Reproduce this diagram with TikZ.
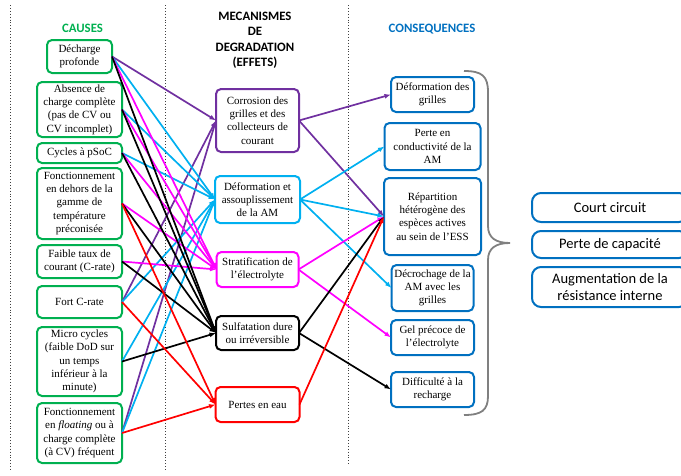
\documentclass[tikz,border=0pt]{standalone}
\usepackage{fontspec}
\setmainfont{Liberation Serif}
\newfontfamily\calib{Carlito}
\usetikzlibrary{positioning,arrows.meta}
\definecolor{cgreen}{RGB}{0,176,80}
\definecolor{cpurple}{RGB}{112,48,160}
\definecolor{cblue}{RGB}{0,176,240}
\definecolor{cmag}{RGB}{255,0,255}
\definecolor{cred}{RGB}{255,0,0}
\definecolor{cdblue}{RGB}{0,112,192}

\begin{document}
\begin{tikzpicture}[x=1pt, y=-1pt,
  Bx/.style={draw, line width=2pt, rounded corners=5pt, align=center,
    inner sep=1pt, outer sep=0pt, font=\fontsize{11}{13.3}\selectfont},
  Ca/.style={Bx, draw=cgreen, minimum width=85pt},
  Me/.style={Bx, draw=#1},
  Co/.style={Bx, draw=cdblue},
  Rs/.style={Bx, draw=cdblue, rounded corners=9pt, minimum width=156pt,
    font=\calib\fontsize{14.5}{17}\selectfont},
  Hd/.style={font=\calib\bfseries\fontsize{12.8}{15.5}\selectfont, align=center},
  Ar/.style={line width=1.7pt, -{Latex[length=6.5pt,width=5pt]}}]
\useasboundingbox (0,0) rectangle (681,475);

\draw[dotted, line width=0.9pt, black!75] (10,5) -- (10,470);
\draw[dotted, line width=0.9pt, black!75] (165,5) -- (165,470);
\draw[dotted, line width=0.9pt, black!75] (348,5) -- (348,465);

\node[Hd, text=cgreen, anchor=base] (hc) at (82.5,32) {CAUSES};
\node[Hd] (hm) at (255,40.5) {MECANISMES\\DE\\DEGRADATION\\(EFFETS)};
\node[Hd, text=cdblue, anchor=base] (hq) at (432,32) {CONSEQUENCES};

\node[Ca, minimum width=65pt, minimum height=33pt] at (79.5,56.5) (c1) {D\'echarge\\profonde};
\node[Ca, minimum height=55pt, below=9pt of c1] (c2) {Absence de\\charge compl\`ete\\(pas de CV ou\\CV incomplet)};
\node[Ca, minimum height=20pt, below=6pt of c2] (c3) {Cycles \`a pSoC};
\node[Ca, minimum height=71pt, below=5pt of c3] (c4) {Fonctionnement\\en dehors de la\\gamme de\\temp\'erature\\pr\'econis\'ee};
\node[Ca, minimum height=33pt, below=6pt of c4] (c5) {Faible taux de\\courant (C-rate)};
\node[Ca, minimum height=32pt, below=8pt of c5] (c6) {Fort C-rate};
\node[Ca, minimum height=69pt, below=9pt of c6] (c7) {Micro cycles\\(faible DoD sur\\un temps\\inf\'erieur \`a la\\minute)};
\node[Ca, minimum height=60pt, below=7pt of c7] (c8) {Fonctionnement\\en \textit{floating} ou \`a\\charge compl\`ete\\(\`a CV) fr\'equent};

\node[Me=cpurple, minimum width=83pt, minimum height=63pt] at (257.5,120.5) (m1) {Corrosion des\\grilles et des\\collecteurs de\\courant};
\node[Me=cblue, minimum width=85pt, minimum height=47pt, below=24pt of m1] (m2) {D\'eformation et\\assouplissement\\de la AM};
\node[Me=cmag, minimum width=82pt, minimum height=35pt, below=29pt of m2] (m3) {Stratification de\\l’\'electrolyte};
\node[Me=black, minimum width=83pt, minimum height=34pt, below=29pt of m3] (m4) {Sulfatation dure\\ou irr\'eversible};
\node[Me=cred, minimum width=84pt, minimum height=35pt, below=37pt of m4] (m5) {Pertes en eau};

\node[Co, minimum width=83pt, minimum height=35pt] at (432.5,94.5) (q1) {D\'eformation des\\grilles};
\node[Co, minimum width=96pt, minimum height=47pt, below=11pt of q1] (q2) {Perte en\\conductivit\'e de la\\AM};
\node[Co, minimum width=97pt, minimum height=77pt, below=8pt of q2] (q3) {R\'epartition\\h\'et\'erog\`ene des\\esp\`eces actives\\au sein de l’ESS};
\node[Co, minimum width=82pt, minimum height=46pt, below=10pt of q3] (q4) {D\'ecrochage de la\\AM avec les\\grilles};
\node[Co, minimum width=83pt, minimum height=35pt, below=9pt of q4] (q5) {Gel pr\'ecoce de\\l’\'electrolyte};
\node[Co, minimum width=83pt, minimum height=35pt, below=17pt of q5] (q6) {Difficult\'e \`a la\\recharge};

\draw[gray, line width=1.8pt] (464,71) .. controls (482,71) and (488,76) .. (488,92) -- (488,226)
  .. controls (488,238) and (496,243) .. (510,243) .. controls (496,243) and (488,248) .. (488,260)
  -- (488,396) .. controls (488,410) and (482,415) .. (464,415);

\node[Rs, minimum height=29pt] at (610,207.5) (r1) {Court circuit};
\node[Rs, minimum height=27pt, below=9pt of r1] (r2) {Perte de capacit\'e};
\node[Rs, minimum height=40pt, below=9pt of r2] (r3) {Augmentation de la\\r\'esistance interne};

\draw[Ar, cpurple] (c1.east) -- (m1.west);
\draw[Ar, cpurple] (c6.east) -- (m1.west);
\draw[Ar, cpurple] (c8.east) -- (m1.west);
\draw[Ar, cblue] (c1.east) -- (m2.west);
\draw[Ar, cblue] (c2.east) -- (m2.west);
\draw[Ar, cblue] (c3.east) -- (m2.west);
\draw[Ar, cblue] (c6.east) -- (m2.west);
\draw[Ar, cblue] (c7.east) -- (m2.west);
\draw[Ar, cblue] (c8.east) -- (m2.west);
\draw[Ar, cmag] (c1.east) -- (m3.west);
\draw[Ar, cmag] (c2.east) -- (m3.west);
\draw[Ar, cmag] (c3.east) -- (m3.west);
\draw[Ar, cmag] (c4.east) -- (m3.west);
\draw[Ar, cmag] (c5.east) -- (m3.west);
\draw[Ar, black] (c1.east) -- (m4.west);
\draw[Ar, black] (c2.east) -- (m4.west);
\draw[Ar, black] (c3.east) -- (m4.west);
\draw[Ar, black] (c4.east) -- (m4.west);
\draw[Ar, black] (c5.east) -- (m4.west);
\draw[Ar, black] (c7.east) -- (m4.west);
\draw[Ar, cred] (c4.east) -- (m5.west);
\draw[Ar, cred] (c6.east) -- (m5.west);
\draw[Ar, cred] (c8.east) -- (m5.west);

\draw[Ar, cpurple] (m1.east) -- (q1.west);
\draw[Ar, cpurple] (m1.east) -- (q3.west);
\draw[Ar, cblue] (m2.east) -- (q2.west);
\draw[Ar, cblue] (m2.east) -- (q3.west);
\draw[Ar, cblue] (m2.east) -- (q4.west);
\draw[Ar, cmag] (m3.east) -- (q3.west);
\draw[Ar, cmag] (m3.east) -- (q5.west);
\draw[Ar, black] (m4.east) -- (q3.west);
\draw[Ar, black] (m4.east) -- (q6.west);
\draw[Ar, cred] (m5.east) -- (q3.west);

\end{tikzpicture}
\end{document}
